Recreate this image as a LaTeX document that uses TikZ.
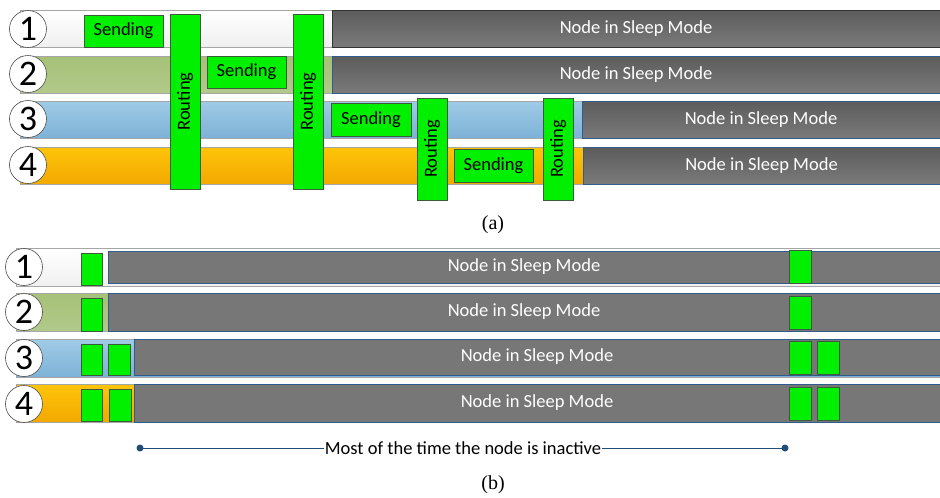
\documentclass[tikz,border=0pt]{standalone}
\usepackage{fontspec}
\setmainfont{Carlito}
\newfontfamily\capfont{Liberation Serif}
\definecolor{olvT}{HTML}{A6C178}\definecolor{olvB}{HTML}{B2C98A}
\definecolor{bluT}{HTML}{9FCBE6}\definecolor{bluB}{HTML}{7DB2D7}
\definecolor{orgT}{HTML}{FFC40A}\definecolor{orgB}{HTML}{F2A900}
\definecolor{gryT}{HTML}{5C5C5C}\definecolor{gryB}{HTML}{7A7A7A}
\definecolor{gryF}{HTML}{777777}
\definecolor{edgeB}{HTML}{2F5C8A}
\definecolor{grn}{HTML}{00F000}
\definecolor{grnE}{HTML}{3C5A3C}
\definecolor{lineB}{HTML}{1F4E79}
\newcommand\rbox[7]{\node[bx,#6,minimum width={(#4-#2)*1pt},minimum height={(#5-#3)*1pt}] (#1) at (#2,#3) {#7};}
\tikzset{
  bx/.style={rectangle, inner sep=0pt, outer sep=0pt, anchor=north west},
  barW/.style={draw=gray!70, line width=0.6pt, top color=white, bottom color=gray!12},
  barO/.style={draw=gray!70, line width=0.6pt, top color=olvT, bottom color=olvB},
  barBl/.style={draw=gray!70, line width=0.6pt, top color=bluT, bottom color=bluB},
  barOr/.style={draw=gray!70, line width=0.6pt, top color=orgT, bottom color=orgB},
  sleepA/.style={draw=edgeB, line width=0.6pt, top color=gryT, bottom color=gryB, text=white, font=\fontsize{18.5}{18.5}\selectfont},
  sleepB/.style={draw=edgeB, line width=0.6pt, fill=gryF, text=white, font=\fontsize{18.5}{18.5}\selectfont},
  gbox/.style={draw=grnE, line width=0.7pt, fill=grn, font=\fontsize{18.5}{18.5}\selectfont},
  num/.style={circle, draw=gray!60!black, line width=0.6pt, fill=white, minimum size=37pt, inner sep=0pt, font=\fontsize{36}{36}\selectfont},
  rot/.style={rotate=90, font=\fontsize{18.5}{18.5}\selectfont},
  captxt/.style={font=\capfont\fontsize{20}{20}\selectfont},
}
\begin{document}
\begin{tikzpicture}[x=1pt,y=-1pt]
\useasboundingbox (0,0) rectangle (940,498);
% ---------- (a) ----------
\rbox{a1}{20}{10}{940}{47}{barW}{}
\rbox{a2}{20}{56}{940}{93}{barO}{}
\rbox{a3}{20}{101}{940}{138}{barBl}{}
\rbox{a4}{20}{147}{940}{184}{barOr}{}
\rbox{sa1}{332}{10}{940}{47}{sleepA,draw=gray!40!black}{Node in Sleep Mode}
\rbox{sa2}{332}{56}{940}{93}{sleepA}{Node in Sleep Mode}
\rbox{sa3}{582}{101}{940}{138}{sleepA}{Node in Sleep Mode}
\rbox{sa4}{583}{147}{940}{184}{sleepA}{Node in Sleep Mode}
\node[num] (na1) at (28,29) {1};
\node[num] (na2) at (28,74) {2};
\node[num] (na3) at (28,119) {3};
\node[num] (na4) at (28,165) {4};
\rbox{s1}{84}{15}{163}{47}{gbox}{Sending}
\rbox{s2}{207}{56}{286}{88}{gbox}{Sending}
\rbox{s3}{331}{103}{411}{136}{gbox}{Sending}
\rbox{s4}{454}{149}{533}{182}{gbox}{Sending}
\rbox{r1}{170}{14}{200}{189}{gbox}{}
\rbox{r2}{293}{14}{323}{189}{gbox}{}
\rbox{r3}{417}{98}{447}{200}{gbox}{}
\rbox{r4}{543}{98}{573}{200}{gbox}{}
\node[rot] (rt1) at (r1.center) {Routing};
\node[rot] (rt2) at (r2.center) {Routing};
\node[rot] (rt3) at (r3.center) {Routing};
\node[rot] (rt4) at (r4.center) {Routing};
\node[captxt] (capa) at (493,225) {(a)};
% ---------- (b) ----------
\rbox{b1}{16}{248}{940}{286}{barW}{}
\rbox{b2}{16}{293}{940}{331}{barO}{}
\rbox{b3}{16}{339}{940}{377}{barBl}{}
\rbox{b4}{16}{384}{940}{422}{barOr}{}
\rbox{sb1}{108}{251}{940}{283}{sleepB}{Node in Sleep Mode}
\rbox{sb2}{108}{293}{940}{331}{sleepB}{Node in Sleep Mode}
\rbox{sb3}{134}{339}{940}{375}{sleepB}{Node in Sleep Mode}
\rbox{sb4}{134}{384}{940}{422}{sleepB}{Node in Sleep Mode}
\node[num] (nb1) at (24,267) {1};
\node[num] (nb2) at (24,312) {2};
\node[num] (nb3) at (24,358) {3};
\node[num] (nb4) at (24,404) {4};
\rbox{g1a}{81}{253}{102}{285}{gbox}{}
\rbox{g2a}{81}{298}{102}{331}{gbox}{}
\rbox{g3a}{81}{344}{102}{375}{gbox}{}
\rbox{g3b}{108}{344}{130}{375}{gbox}{}
\rbox{g4a}{81}{389}{102}{421}{gbox}{}
\rbox{g4b}{109}{389}{131}{421}{gbox}{}
\rbox{h1a}{789}{250}{811}{283}{gbox}{}
\rbox{h2a}{789}{296}{811}{329}{gbox}{}
\rbox{h3a}{789}{341}{811}{374}{gbox}{}
\rbox{h3b}{817}{341}{839}{374}{gbox}{}
\rbox{h4a}{789}{387}{811}{420}{gbox}{}
\rbox{h4b}{817}{387}{839}{420}{gbox}{}
\coordinate (L) at (140,448);
\coordinate (R) at (785,448);
\draw[lineB, line width=0.9pt] (L) -- (R);
\fill[lineB] (L) circle (3.5pt);
\fill[lineB] (R) circle (3.5pt);
\node[fill=white, inner sep=1pt, font=\fontsize{18.5}{18.5}\selectfont] (mt) at (463,448) {Most of the time the node is inactive};
\node[captxt] (capb) at (493,485) {(b)};
\end{tikzpicture}
\end{document}
